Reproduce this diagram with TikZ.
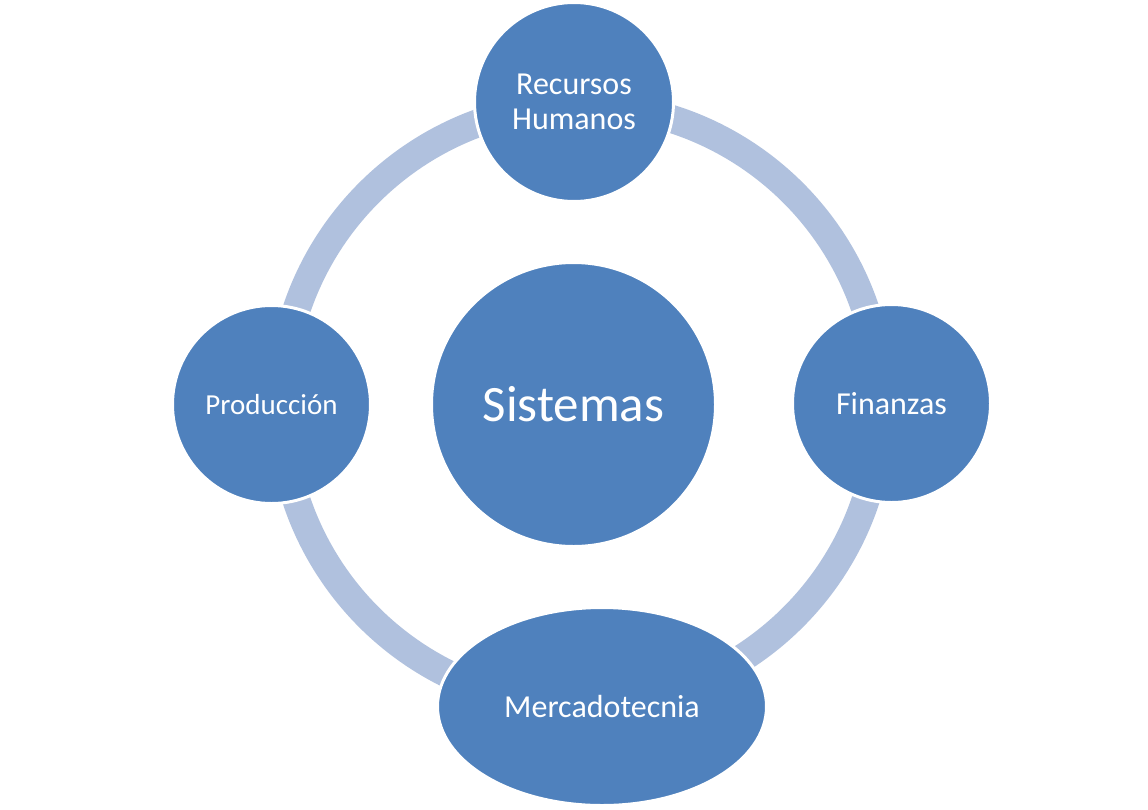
\documentclass[tikz,border=0pt]{standalone}
\usepackage{fontspec}
\setmainfont{Carlito}
\usetikzlibrary{shapes.geometric}
\definecolor{nodeblue}{RGB}{79,129,189}
\definecolor{bandblue}{RGB}{176,193,222}
\tikzset{
  bubble/.style={circle, fill=nodeblue, draw=white, line width=3pt, inner sep=0pt, outer sep=0pt,
    text=white, align=center, font=\fontsize{32}{35}\selectfont},
  band/.style={draw=bandblue, line width=28pt}
}
\begin{document}
\begin{tikzpicture}[x=1pt,y=-1pt]
\useasboundingbox[fill=white] (0,0) rectangle (1148,809);
\draw[band] (581,405) circle[radius=300];
\node[bubble, minimum size=199pt] (rh) at (574,102) {Recursos\\Humanos};
\node[bubble, minimum size=198pt, font=\fontsize{29}{35}\selectfont] (prod) at (271.5,404.5) {Producción};
\node[bubble, minimum size=198pt] (fin) at (891.5,403.5) {Finanzas};
\node[bubble, ellipse, minimum width=329pt, minimum height=198pt] (merc) at (602,706.5) {Mercadotecnia};
\node[bubble, minimum size=284pt, font=\fontsize{51}{60}\selectfont] (sis) at (573.5,404.5) {Sistemas};
\end{tikzpicture}
\end{document}
